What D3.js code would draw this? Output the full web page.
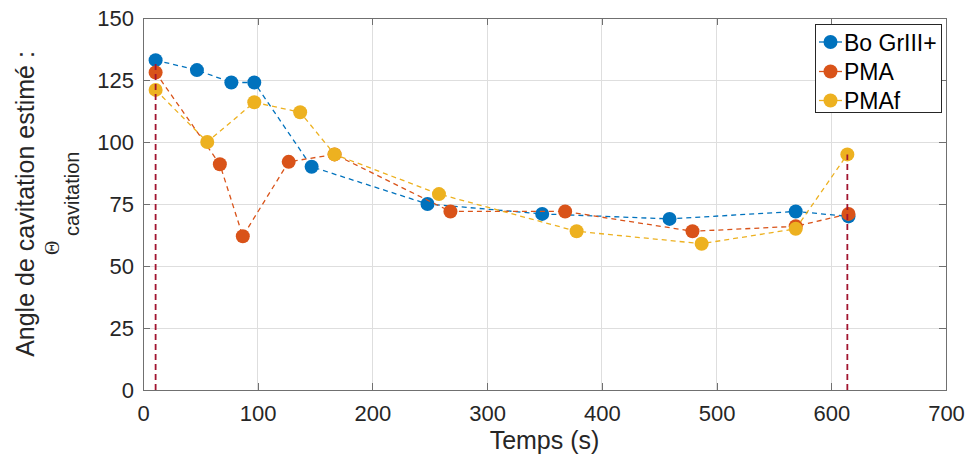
<!DOCTYPE html>
<html><head><meta charset="utf-8">
<script src="https://cdn.jsdelivr.net/npm/d3@7"></script>
<style>
html,body{margin:0;padding:0;background:#fff;}
svg{display:block;font-family:"Liberation Sans",Arial,sans-serif;}
</style></head>
<body><svg id="c" width="968" height="461"></svg>
<script>
const seriesNames = ["Bo GrIII+", "PMA", "PMAf"];
const seriesColors = ["#0072BD", "#D95319", "#EDB120"];
const boX = [11, 47, 77, 97, 147, 248, 348, 459, 569, 615];
const boY = [133, 129, 124, 124, 90, 75, 71, 69, 72, 70];
const pmaX = [11, 67, 87, 127, 167, 268, 368, 479, 569, 615];
const pmaY = [128, 91, 62, 92, 95, 72, 72, 64, 66, 71];
const pmafX = [11, 56, 97, 137, 167, 258, 378, 487, 569, 614];
const pmafY = [121, 100, 116, 112, 95, 79, 64, 59, 65, 95];
const markerLinesX = [11, 614];
const markerLinesTop = [133, 95];
const xTicks = [0, 100, 200, 300, 400, 500, 600, 700];
const yTicks = [0, 25, 50, 75, 100, 125, 150];
const xLabel = "Temps (s)";
const yLabel1 = "Angle de cavitation estimé :";
const yLabelSym = "Θ";
const yLabelSub = "cavitation";

const svg = d3.select("#c");
const L = 143, R = 946, T = 18, B = 390;
const x = d3.scaleLinear().domain([0, 700]).range([L, R]);
const y = d3.scaleLinear().domain([0, 150]).range([B, T]);

// grid
const grid = svg.append("g");
grid.selectAll("line.gx").data(xTicks).join("line")
  .attr("x1", d => x(d)).attr("x2", d => x(d)).attr("y1", T).attr("y2", B)
  .attr("stroke", "#dedede").attr("stroke-width", 1).attr("shape-rendering", "crispEdges");
grid.selectAll("line.gy").data(yTicks).join("line")
  .attr("x1", L).attr("x2", R).attr("y1", d => y(d)).attr("y2", d => y(d))
  .attr("stroke", "#dedede").attr("stroke-width", 1).attr("shape-rendering", "crispEdges");

// axes
const axCol = "#707070";
const fs = 22;
const xa = svg.append("g").attr("transform", `translate(0,${B})`)
  .call(d3.axisBottom(x).tickValues(xTicks).tickSizeInner(-7).tickSizeOuter(0).tickPadding(15));
const ya = svg.append("g").attr("transform", `translate(${L},0)`)
  .call(d3.axisLeft(y).tickValues(yTicks).tickSizeInner(-7).tickSizeOuter(0).tickPadding(9));
const xt = svg.append("g").attr("transform", `translate(0,${T})`)
  .call(d3.axisTop(x).tickValues(xTicks).tickSizeInner(-7).tickSizeOuter(0).tickFormat(""));
const yr = svg.append("g").attr("transform", `translate(${R},0)`)
  .call(d3.axisRight(y).tickValues(yTicks).tickSizeInner(-7).tickSizeOuter(0).tickFormat(""));
[xa, ya, xt, yr].forEach(g => {
  g.select(".domain").attr("stroke", axCol).attr("shape-rendering", "crispEdges");
  g.selectAll(".tick line").attr("stroke", axCol).attr("shape-rendering", "crispEdges");
  g.selectAll(".tick text").attr("fill", "#262626").attr("font-size", fs)
    .attr("font-family", "'Liberation Sans', Arial, sans-serif");
});

// series
const datasets = [
  boX.map((v, i) => [v, boY[i]]),
  pmaX.map((v, i) => [v, pmaY[i]]),
  pmafX.map((v, i) => [v, pmafY[i]])
];
const line = d3.line().x(d => x(d[0])).y(d => y(d[1]));
datasets.forEach((data, k) => {
  const g = svg.append("g");
  g.append("path").datum(data).attr("d", line).attr("fill", "none")
    .attr("stroke", seriesColors[k]).attr("stroke-width", 1.3).attr("stroke-dasharray", "5,4");
  g.selectAll("circle").data(data).join("circle")
    .attr("cx", d => x(d[0])).attr("cy", d => y(d[1])).attr("r", 7)
    .attr("fill", seriesColors[k]);
});

// vertical markers
svg.append("g").selectAll("line").data(markerLinesX).join("line")
  .attr("x1", d => x(d)).attr("x2", d => x(d))
  .attr("y1", y(0)).attr("y2", (d, i) => y(markerLinesTop[i]))
  .attr("stroke", "#A2142F").attr("stroke-width", 1.8).attr("stroke-dasharray", "6,4");

// axis labels
svg.append("text").attr("x", (L + R) / 2).attr("y", 449).attr("text-anchor", "middle")
  .attr("font-size", 25).attr("fill", "#262626").text(xLabel);
const yl = svg.append("g").attr("transform", "rotate(-90)");
yl.append("text").attr("x", -(T + B) / 2).attr("y", 34).attr("text-anchor", "middle")
  .attr("font-size", 25).attr("fill", "#262626").text(yLabel1);
yl.append("text").attr("x", -255).attr("y", 59).attr("text-anchor", "start")
  .attr("font-size", 20).attr("font-family", "'Liberation Serif', serif")
  .attr("fill", "#262626").text(yLabelSym);
yl.append("text").attr("x", -236).attr("y", 79).attr("text-anchor", "start")
  .attr("font-size", 20).attr("fill", "#262626").text(yLabelSub);

// legend
const lg = svg.append("g");
lg.append("rect").attr("x", 815.5).attr("y", 24.5).attr("width", 126).attr("height", 88)
  .attr("fill", "#fff").attr("stroke", "#262626").attr("stroke-width", 1);
const rowsY = [42, 71.5, 100.5];
seriesNames.forEach((n, i) => {
  lg.append("line").attr("x1", 819).attr("x2", 842).attr("y1", rowsY[i]).attr("y2", rowsY[i])
    .attr("stroke", seriesColors[i]).attr("stroke-width", 1.3);
  lg.append("circle").attr("cx", 830.5).attr("cy", rowsY[i]).attr("r", 7).attr("fill", seriesColors[i]);
  lg.append("text").attr("x", 844).attr("y", rowsY[i] + 8.5).attr("font-size", 23)
    .attr("fill", "#000").text(n);
});
</script></body></html>
